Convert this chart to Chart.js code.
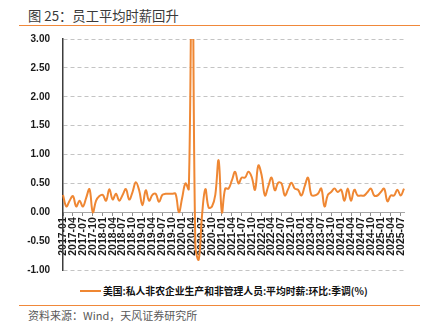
<!DOCTYPE html>
<html>
<head>
<meta charset="utf-8">
<script src="https://cdn.jsdelivr.net/npm/chart.js@4.4.1/dist/chart.umd.min.js"></script>
<style>
  html, body { margin: 0; padding: 0; background: #fff; }
  body { width: 427px; height: 329px; position: relative; overflow: hidden; font-family: "Noto Sans CJK SC", "Noto Sans", sans-serif; }
  .title { position: absolute; left: 28px; top: 6px; font-size: 13.3px; line-height: 20px; color: #3a3a3a; white-space: nowrap; }
  .rule { position: absolute; left: 19px; width: 401px; height: 1px; background: #F0883A; }
  .source { position: absolute; left: 28px; top: 307px; font-size: 11px; line-height: 16px; color: #595959; white-space: nowrap; }
  .legend { position: absolute; left: 80px; top: 283px; height: 16px; display: flex; align-items: center; white-space: nowrap; }
  .legend .swatch { width: 21px; height: 2px; margin-right: 2px; }
  .legend .text { font-size: 9.8px; font-weight: bold; color: #111; line-height: 16px; }
  #wrap { position: absolute; left: 0; top: 28px; width: 427px; height: 250px; }
</style>
</head>
<body>
<div class="title">图 25：员工平均时薪回升</div>
<div class="rule" style="top:25px"></div>
<div id="wrap"><canvas id="chart" width="427" height="250"></canvas></div>
<div class="legend"><div class="swatch" id="legendSwatch"></div><div class="text" id="legendText"></div></div>
<div class="rule" style="top:305px"></div>
<div class="source">资料来源：Wind，天风证券研究所</div>
<script>
// Monthly series, 2017-01 .. 2025-08
const startYear = 2017;
const startMonth = 1;
const seriesName = '美国:私人非农企业生产和非管理人员:平均时薪:环比:季调(%)';
const lineColor = '#EF8733';

// month-on-month change, %
const wageMoM = [
  0.30, 0.10, 0.20, 0.28, 0.10, 0.20, 0.10, 0.25, 0.40, 0.00, 0.20, 0.28,   // 2017
  0.30, 0.20, 0.40, 0.22, 0.32, 0.20, 0.30, 0.40, 0.22, 0.35, 0.52, 0.38,   // 2018
  0.12, 0.38, 0.20, 0.30, 0.32, 0.18, 0.30, 0.32, 0.32, 0.32, 0.32, 0.00,   // 2019
  0.25, 0.50, 0.40, 5.00, -0.60, -0.82, -0.05, 0.40, 0.08, 0.10, 0.30, 0.90, // 2020
  0.00, 0.41, 0.41, 0.55, 0.70, 0.50, 0.60, 0.60, 0.70, 0.61, 0.39, 0.81,   // 2021
  0.64, 0.29, 0.45, 0.60, 0.38, 0.51, 0.50, 0.29, 0.40, 0.51, 0.41, 0.39,   // 2022
  0.29, 0.45, 0.60, 0.30, 0.29, 0.32, 0.41, 0.10, 0.30, 0.35, 0.41, 0.35,   // 2023
  0.39, 0.20, 0.41, 0.20, 0.39, 0.29, 0.29, 0.29, 0.35, 0.41, 0.29, 0.29,   // 2024
  0.35, 0.41, 0.19, 0.29, 0.29, 0.39, 0.29, 0.41                            // 2025
];

// y axis ticks
const yTicks = [3.00, 2.50, 2.00, 1.50, 1.00, 0.50, 0.00, -0.50, -1.00];
// every third month gets a label
const labelEvery = 3;

const months = wageMoM.map((_, i) => {
  const t = (startMonth - 1) + i;
  const y = startYear + Math.floor(t / 12);
  const m = (t % 12) + 1;
  return y + '-' + String(m).padStart(2, '0');
});

document.getElementById('legendSwatch').style.background = lineColor;
document.getElementById('legendText').textContent = seriesName;

const yFont = { family: '"Liberation Sans", Arial, sans-serif', size: 10, weight: 'bold' };
const xFont = { family: '"Liberation Sans", Arial, sans-serif', size: 10.5, weight: 'bold' };

new Chart(document.getElementById('chart'), {
  type: 'line',
  data: {
    labels: months,
    datasets: [{
      label: seriesName,
      data: wageMoM,
      borderColor: lineColor,
      backgroundColor: lineColor,
      borderWidth: 2,
      tension: 0.4,
      pointRadius: 0,
      pointHoverRadius: 0,
      fill: false
    }]
  },
  options: {
    responsive: false,
    animation: false,
    devicePixelRatio: 1,
    layout: { padding: { left: 21, right: 23, top: 11, bottom: 8 } },
    plugins: {
      legend: { display: false },
      tooltip: { enabled: false },
      title: { display: false }
    },
    scales: {
      x: {
        type: 'category',
        position: { y: 0 },
        offset: false,
        grid: {
          display: true,
          drawOnChartArea: false,
          drawTicks: true,
          tickLength: 3,
          tickWidth: 1,
          tickColor: (ctx) => (ctx.index % labelEvery === 0 ? '#8c8c8c' : 'transparent')
        },
        border: { display: true, color: '#a6a6a6', width: 1 },
        ticks: {
          autoSkip: false,
          maxRotation: 90,
          minRotation: 90,
          padding: 2,
          color: '#1a1a1a',
          font: xFont,
          callback: function (val, idx) {
            return idx % labelEvery === 0 ? this.getLabelForValue(val) : '';
          }
        }
      },
      y: {
        min: yTicks[yTicks.length - 1],
        max: yTicks[0],
        afterBuildTicks: (scale) => { scale.ticks = yTicks.map(v => ({ value: v })); },
        afterFit: (scale) => { scale.width = 42; },
        grid: {
          display: true,
          drawTicks: true,
          tickLength: 13,
          tickColor: 'transparent',
          lineWidth: 1,
          color: (ctx) => (ctx.tick && ctx.tick.value === 0 ? 'transparent' : '#c4c4c4')
        },
        border: { display: true, color: '#3c3c3c', width: 1.5, dash: [4, 3] },
        ticks: {
          padding: 0,
          color: '#1a1a1a',
          font: yFont,
          callback: (v) => Number(v).toFixed(2)
        }
      }
    }
  }
});
</script>
</body>
</html>
